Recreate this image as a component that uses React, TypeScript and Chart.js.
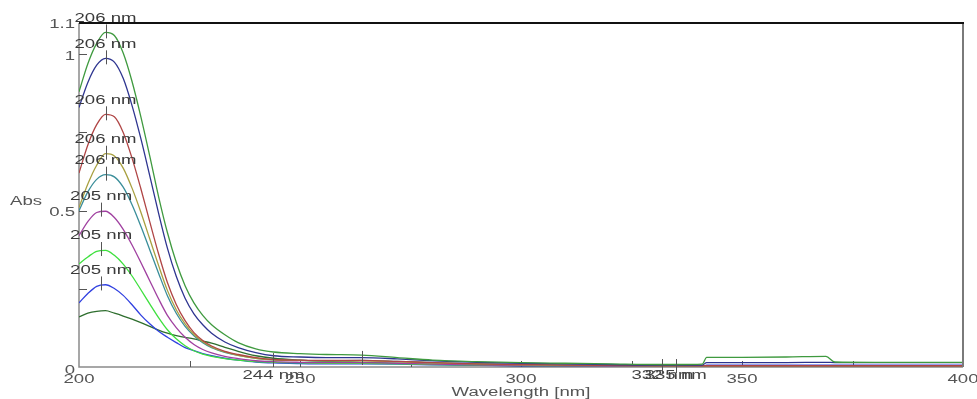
import { useEffect, useRef } from "react";
import { Chart, registerables } from "chart.js";

Chart.register(...registerables);

// ---- data ----
const WAVELENGTHS = [200, 202, 204, 206, 208, 210, 212, 214, 216, 218, 220, 222, 224, 226, 228, 230, 233, 236, 240, 244, 250, 256, 264, 272, 280, 290, 300, 310, 320, 332, 335, 341, 342, 350, 360, 369, 371, 380, 390, 400];

const ABS_GREEN = [0.88, 0.97, 1.035, 1.07, 1.06, 1.004, 0.913, 0.8, 0.675, 0.545, 0.43, 0.335, 0.26, 0.205, 0.165, 0.135, 0.103, 0.078, 0.058, 0.048, 0.043, 0.04, 0.038, 0.03, 0.022, 0.017, 0.014, 0.012, 0.01, 0.008, 0.008, 0.009, 0.031, 0.031, 0.032, 0.034, 0.016, 0.015, 0.015, 0.015];
const ABS_NAVY = [0.83, 0.91, 0.965, 0.987, 0.975, 0.923, 0.836, 0.73, 0.612, 0.492, 0.38, 0.29, 0.22, 0.17, 0.135, 0.108, 0.08, 0.062, 0.046, 0.036, 0.032, 0.03, 0.03, 0.026, 0.02, 0.015, 0.012, 0.01, 0.008, 0.006, 0.006, 0.006, 0.014, 0.014, 0.014, 0.015, 0.014, 0.014, 0.014, 0.014];
const ABS_RED = [0.62, 0.71, 0.775, 0.808, 0.8, 0.75, 0.668, 0.57, 0.465, 0.362, 0.27, 0.2, 0.148, 0.11, 0.085, 0.067, 0.05, 0.04, 0.03, 0.024, 0.022, 0.021, 0.021, 0.018, 0.014, 0.01, 0.008, 0.006, 0.005, 0.004, 0.004, 0.004, 0.004, 0.004, 0.004, 0.004, 0.004, 0.004, 0.004, 0.004];
const ABS_OLIVE = [0.51, 0.585, 0.645, 0.682, 0.675, 0.636, 0.572, 0.495, 0.41, 0.325, 0.245, 0.183, 0.138, 0.104, 0.081, 0.064, 0.048, 0.037, 0.028, 0.023, 0.021, 0.02, 0.02, 0.017, 0.013, 0.01, 0.007, 0.006, 0.005, 0.004, 0.004, 0.004, 0.004, 0.004, 0.004, 0.004, 0.004, 0.004, 0.004, 0.004];
const ABS_TEAL = [0.5, 0.56, 0.6, 0.615, 0.608, 0.575, 0.519, 0.45, 0.375, 0.3, 0.228, 0.172, 0.13, 0.1, 0.078, 0.062, 0.047, 0.037, 0.028, 0.023, 0.021, 0.02, 0.021, 0.018, 0.014, 0.01, 0.008, 0.006, 0.005, 0.004, 0.004, 0.004, 0.004, 0.004, 0.004, 0.004, 0.004, 0.004, 0.004, 0.004];
const ABS_PURPLE = [0.42, 0.465, 0.494, 0.498, 0.478, 0.44, 0.39, 0.334, 0.276, 0.218, 0.165, 0.126, 0.095, 0.072, 0.056, 0.045, 0.034, 0.027, 0.02, 0.017, 0.015, 0.014, 0.014, 0.012, 0.009, 0.007, 0.005, 0.004, 0.003, 0.003, 0.003, 0.003, 0.003, 0.003, 0.003, 0.003, 0.003, 0.003, 0.003, 0.003];
const ABS_LIGHTGREEN = [0.33, 0.352, 0.37, 0.373, 0.357, 0.329, 0.291, 0.247, 0.202, 0.158, 0.119, 0.09, 0.068, 0.052, 0.041, 0.034, 0.027, 0.022, 0.017, 0.015, 0.013, 0.012, 0.012, 0.01, 0.008, 0.006, 0.005, 0.004, 0.003, 0.003, 0.003, 0.003, 0.003, 0.003, 0.003, 0.003, 0.003, 0.003, 0.003, 0.003];
const ABS_BLUE = [0.205, 0.235, 0.258, 0.263, 0.251, 0.229, 0.199, 0.166, 0.138, 0.114, 0.095, 0.078, 0.062, 0.052, 0.043, 0.036, 0.028, 0.022, 0.016, 0.013, 0.011, 0.01, 0.01, 0.009, 0.007, 0.005, 0.004, 0.003, 0.003, 0.002, 0.002, 0.002, 0.006, 0.006, 0.006, 0.006, 0.006, 0.006, 0.006, 0.006];
const ABS_DARKGREEN = [0.16, 0.172, 0.178, 0.18, 0.172, 0.163, 0.153, 0.142, 0.13, 0.118, 0.108, 0.1, 0.095, 0.09, 0.083, 0.076, 0.063, 0.05, 0.036, 0.028, 0.022, 0.018, 0.015, 0.012, 0.009, 0.006, 0.004, 0.003, 0.002, 0.001, 0.001, 0.001, 0.001, 0.001, 0.001, 0.001, 0.001, 0.001, 0.001, 0.001];

const PEAK_LABELS = ["206 nm", "206 nm", "206 nm", "206 nm", "206 nm", "205 nm", "205 nm", "205 nm"];
const PEAK_WAVELENGTHS = [206, 206, 206, 206, 206, 205, 205, 205];
const PEAK_VALUES = [1.07, 0.987, 0.808, 0.682, 0.615, 0.5, 0.374, 0.264];

const VALLEY_MARK_WAVELENGTHS = [244, 264, 332, 335];
const VALLEY_MARK_VALUES = [0.022, 0.029, 0.003, 0.003];
const VALLEY_LABELS = ["244 nm", "332 nm", "335 nm"];
const VALLEY_LABEL_WAVELENGTHS = [244, 332, 335];

const X_MIN = 200;
const X_MAX = 400;
const Y_MIN = 0;
const Y_MAX = 1.1;
const X_TICKS = [200, 250, 300, 350, 400];
const X_TICK_LABELS = ["200", "250", "300", "350", "400"];
const X_MINOR_TICKS = [225, 250, 275, 300, 325, 350, 375];
const Y_TICKS = [0, 0.5, 1, 1.1];
const Y_TICK_LABELS = ["0", "0.5", "1", "1.1"];
const Y_MINOR_TICKS = [0.25, 0.5, 0.75, 1];

const X_TITLE = "Wavelength [nm]";
const Y_TITLE = "Abs";

const SERIES = [
  { values: ABS_GREEN, color: "#3f9a3f" },
  { values: ABS_NAVY, color: "#2e3590" },
  { values: ABS_RED, color: "#b04545" },
  { values: ABS_OLIVE, color: "#a8a040" },
  { values: ABS_TEAL, color: "#3a8e9a" },
  { values: ABS_PURPLE, color: "#a040a0" },
  { values: ABS_LIGHTGREEN, color: "#3ee03e" },
  { values: ABS_BLUE, color: "#3040e0" },
  { values: ABS_DARKGREEN, color: "#2e6e2e" },
];

const FONT = '12px "Liberation Sans", Arial, sans-serif';
const SX = 1.55;

function stretchText(ctx: CanvasRenderingContext2D, text: string, x: number, y: number, align: CanvasTextAlign) {
  ctx.save();
  ctx.translate(x, y);
  ctx.scale(SX, 1);
  ctx.textAlign = align;
  ctx.textBaseline = "middle";
  ctx.fillText(text, 0, 0);
  ctx.restore();
}

const framePlugin = {
  id: "frame",
  beforeDatasetsDraw(chart: any) {
    const ctx: CanvasRenderingContext2D = chart.ctx;
    const xs = chart.scales.x;
    const ys = chart.scales.y;
    const left = xs.getPixelForValue(X_MIN);
    const right = xs.getPixelForValue(X_MAX);
    const top = ys.getPixelForValue(Y_MAX);
    const bottom = ys.getPixelForValue(Y_MIN);
    ctx.save();
    // axes
    ctx.strokeStyle = "#8a8a8a";
    ctx.lineWidth = 1.5;
    ctx.beginPath();
    ctx.moveTo(left, top);
    ctx.lineTo(left, bottom);
    ctx.lineTo(right, bottom);
    ctx.stroke();
    // minor inward ticks
    ctx.strokeStyle = "#555";
    ctx.lineWidth = 1;
    ctx.beginPath();
    X_MINOR_TICKS.forEach((v) => {
      const px = Math.round(xs.getPixelForValue(v)) + 0.5;
      ctx.moveTo(px, bottom);
      ctx.lineTo(px, bottom - 6);
    });
    Y_MINOR_TICKS.forEach((v) => {
      const py = Math.round(ys.getPixelForValue(v)) + 0.5;
      ctx.moveTo(left, py);
      ctx.lineTo(left + 8, py);
    });
    ctx.stroke();
    ctx.restore();
  },
  afterDatasetsDraw(chart: any) {
    const ctx: CanvasRenderingContext2D = chart.ctx;
    const xs = chart.scales.x;
    const ys = chart.scales.y;
    const left = xs.getPixelForValue(X_MIN);
    const right = xs.getPixelForValue(X_MAX);
    const top = ys.getPixelForValue(Y_MAX);
    const bottom = ys.getPixelForValue(Y_MIN);
    ctx.save();
    // right gray border
    ctx.strokeStyle = "#7a7a7a";
    ctx.lineWidth = 2;
    ctx.beginPath();
    ctx.moveTo(right, top);
    ctx.lineTo(right, bottom);
    ctx.stroke();
    // top black border
    ctx.strokeStyle = "#111";
    ctx.lineWidth = 2;
    ctx.beginPath();
    ctx.moveTo(left, top);
    ctx.lineTo(right + 1, top);
    ctx.stroke();

    // peak / valley markers
    ctx.strokeStyle = "#555";
    ctx.lineWidth = 1;
    ctx.beginPath();
    PEAK_WAVELENGTHS.forEach((w, i) => {
      const px = Math.round(xs.getPixelForValue(w)) + 0.5;
      const py = ys.getPixelForValue(PEAK_VALUES[i]);
      ctx.moveTo(px, py - 8);
      ctx.lineTo(px, py + 6);
    });
    VALLEY_MARK_WAVELENGTHS.forEach((w, i) => {
      const px = Math.round(xs.getPixelForValue(w)) + 0.5;
      const py = ys.getPixelForValue(VALLEY_MARK_VALUES[i]);
      ctx.moveTo(px, py - 7);
      ctx.lineTo(px, py + 7);
    });
    ctx.stroke();

    ctx.font = FONT;
    // peak labels
    ctx.fillStyle = "#3a3a3a";
    PEAK_WAVELENGTHS.forEach((w, i) => {
      const px = xs.getPixelForValue(w);
      const py = ys.getPixelForValue(PEAK_VALUES[i]);
      stretchText(ctx, PEAK_LABELS[i], px, py - 14, "center");
    });
    // valley labels
    ctx.fillStyle = "#444";
    VALLEY_LABEL_WAVELENGTHS.forEach((w, i) => {
      stretchText(ctx, VALLEY_LABELS[i], xs.getPixelForValue(w), bottom + 9, "center");
    });
    // tick labels
    ctx.fillStyle = "#555";
    X_TICKS.forEach((v, i) => {
      stretchText(ctx, X_TICK_LABELS[i], xs.getPixelForValue(v), bottom + 13, "center");
    });
    Y_TICKS.forEach((v, i) => {
      const py = ys.getPixelForValue(v) + (v === 0 ? 4 : 2);
      stretchText(ctx, Y_TICK_LABELS[i], left - 4, py, "right");
    });
    // titles
    stretchText(ctx, X_TITLE, (left + right) / 2, bottom + 26, "center");
    stretchText(ctx, Y_TITLE, 10, ys.getPixelForValue(0.53), "left");
    ctx.restore();
  },
};

export default function App() {
  const canvasRef = useRef<HTMLCanvasElement | null>(null);

  useEffect(() => {
    const canvas = canvasRef.current;
    if (!canvas) return;
    const chart = new Chart(canvas, {
      type: "line",
      data: {
        datasets: SERIES.map((s) => ({
          data: WAVELENGTHS.map((w, i) => ({ x: w, y: s.values[i] })),
          borderColor: s.color,
          borderWidth: 1.3,
          pointRadius: 0,
          fill: false,
          cubicInterpolationMode: "monotone" as const,
        })),
      },
      options: {
        animation: false,
        responsive: false,
        devicePixelRatio: 1,
        events: [],
        layout: { padding: { left: 79, right: 14, top: 23, bottom: 32 } },
        scales: {
          x: { type: "linear", min: X_MIN, max: X_MAX, display: false },
          y: { type: "linear", min: Y_MIN, max: Y_MAX, display: false },
        },
        plugins: {
          legend: { display: false },
          tooltip: { enabled: false },
        },
      },
      plugins: [framePlugin],
    });
    return () => chart.destroy();
  }, []);

  return (
    <div style={{ position: "fixed", left: 0, top: 0, width: 977, height: 399, background: "#fff" }}>
      <canvas ref={canvasRef} width={977} height={399} style={{ width: 977, height: 399, display: "block" }} />
    </div>
  );
}
